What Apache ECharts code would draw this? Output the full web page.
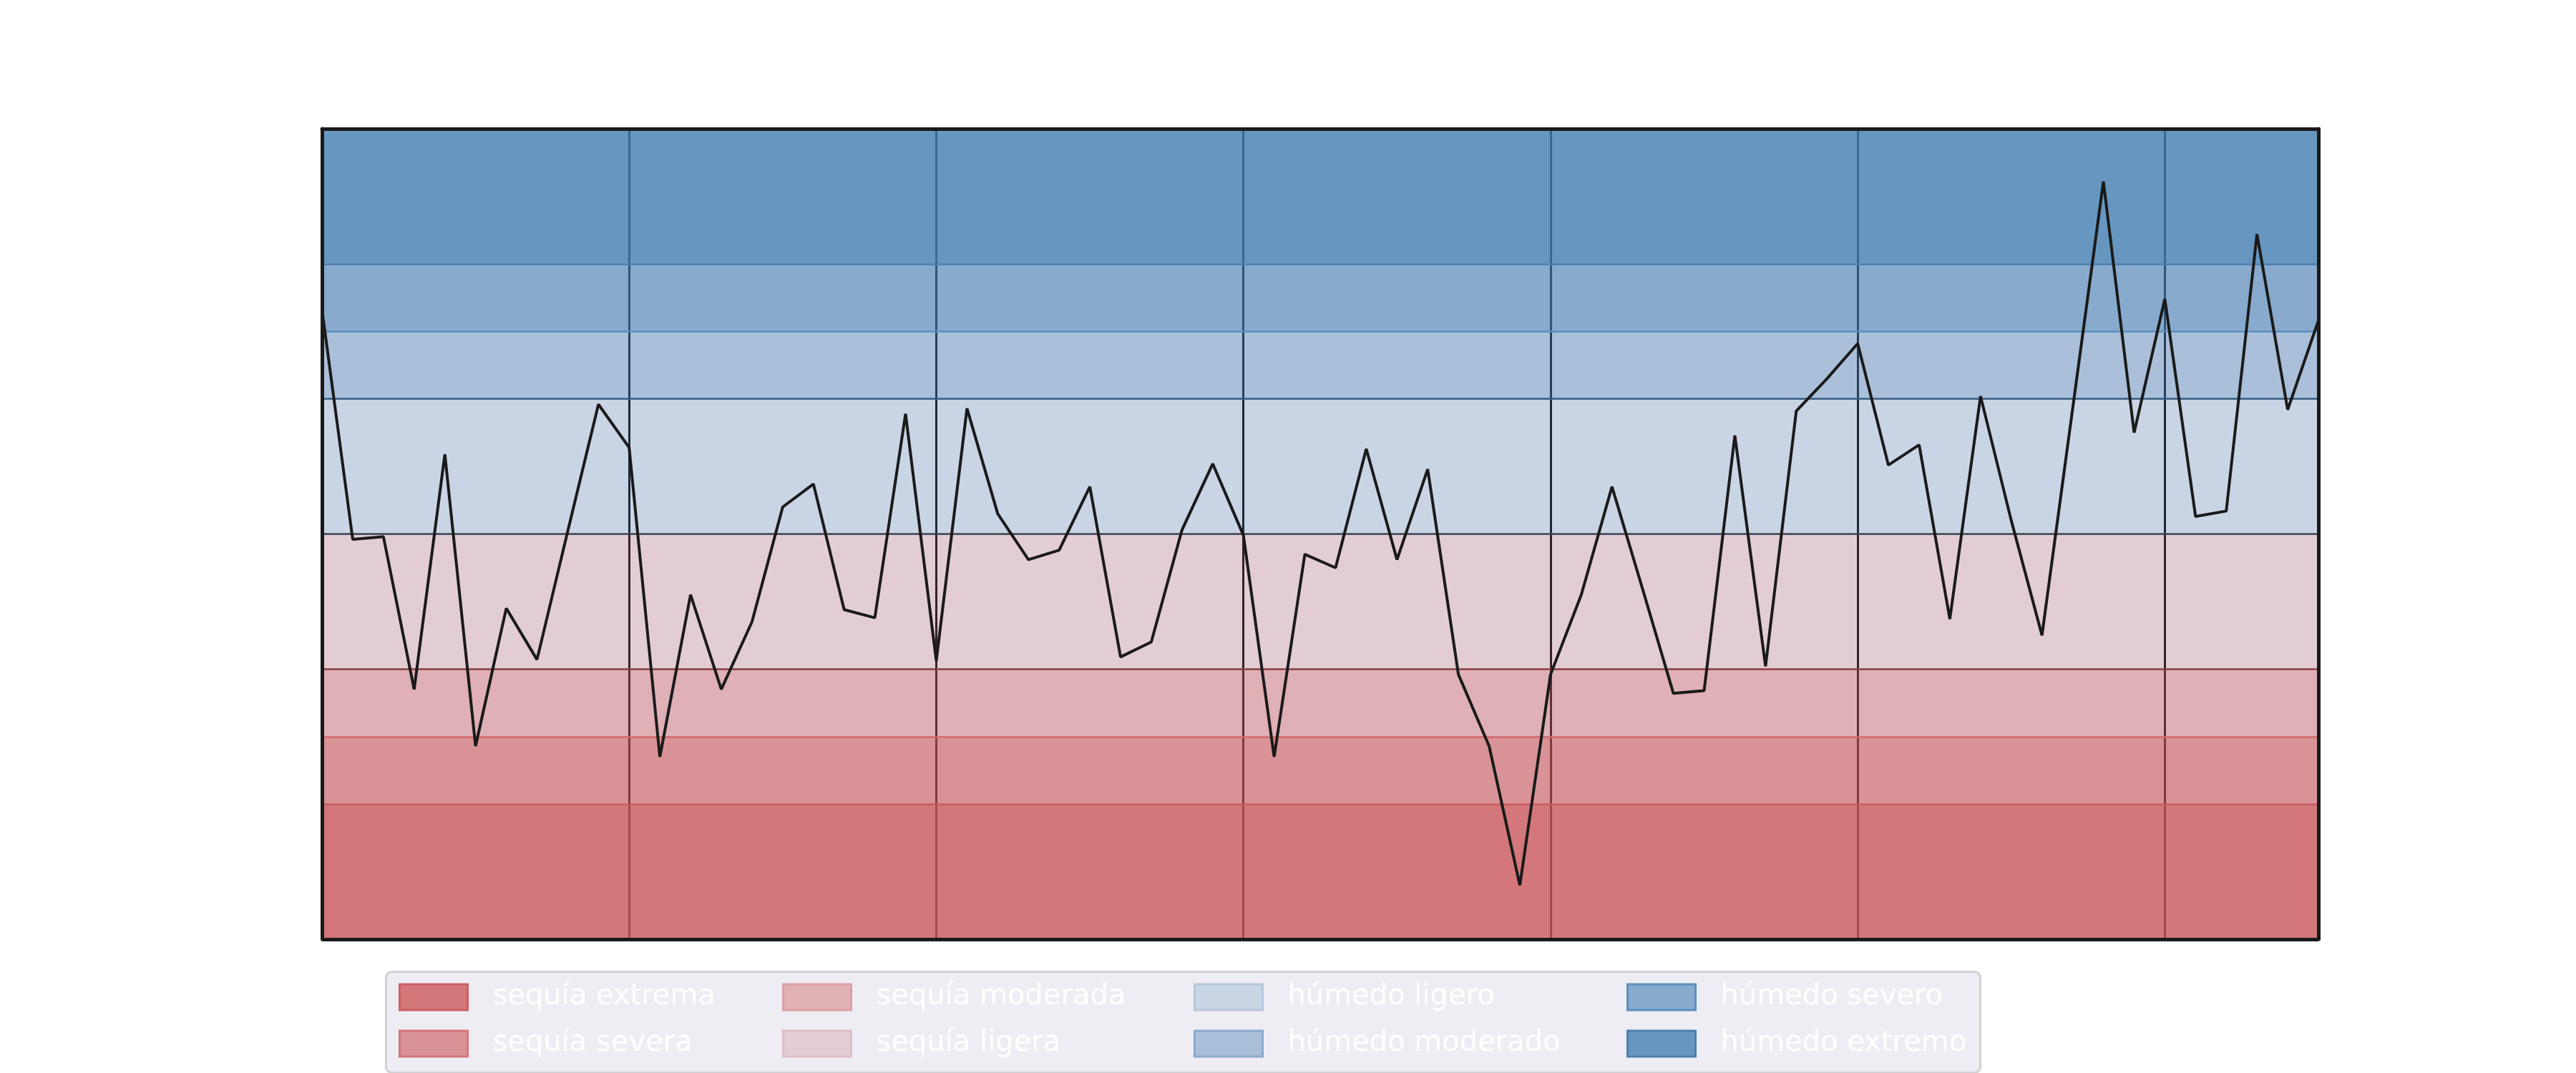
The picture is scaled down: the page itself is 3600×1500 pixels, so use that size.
<!DOCTYPE html>
<html>
<head>
<meta charset="utf-8">
<script src="https://cdn.jsdelivr.net/npm/echarts@6/dist/echarts.min.js"></script>
<style>
  html, body { margin: 0; padding: 0; background: #ffffff; }
  #chart { width: 3600px; height: 1500px; }
</style>
</head>
<body>
<div id="chart"></div>
<script>
// años (eje x, sin etiquetas visibles)
var years = [1950,1951,1952,1953,1954,1955,1956,1957,1958,1959,
             1960,1961,1962,1963,1964,1965,1966,1967,1968,1969,
             1970,1971,1972,1973,1974,1975,1976,1977,1978,1979,
             1980,1981,1982,1983,1984,1985,1986,1987,1988,1989,
             1990,1991,1992,1993,1994,1995,1996,1997,1998,1999,
             2000,2001,2002,2003,2004,2005,2006,2007,2008,2009,
             2010,2011,2012,2013,2014,2015];
// índice (SPI)
var spi = [1.66,-0.04,-0.02,-1.15,0.59,-1.57,-0.55,-0.93,0.02,0.96,
           0.64,-1.65,-0.45,-1.15,-0.65,0.20,0.37,-0.56,-0.62,0.89,
           -0.94,0.93,0.15,-0.19,-0.12,0.35,-0.91,-0.80,0.03,0.52,
           -0.01,-1.65,-0.15,-0.25,0.63,-0.19,0.48,-1.04,-1.57,-2.60,
           -1.04,-0.45,0.35,-0.41,-1.18,-1.16,0.73,-0.98,0.91,1.15,
           1.41,0.51,0.66,-0.63,1.02,0.10,-0.75,0.93,2.61,0.75,
           1.74,0.13,0.17,2.22,0.92,1.58];

// clases
var bandNames = ['sequía extrema','sequía severa','sequía moderada','sequía ligera',
                 'húmedo ligero','húmedo moderado','húmedo severo','húmedo extremo'];
var bandFrom = [-3, -2, -1.5, -1, 0, 1, 1.5, 2];
var bandTo   = [-2, -1.5, -1, 0, 1, 1.5, 2, 3];
var edgeValues = [-2, -1.5, -1, 0, 1, 1.5, 2];

// estilos
var bandFill = ['rgba(200,85,89,0.8)','rgba(193,78,85,0.61)','rgba(182,75,87,0.44)','rgba(143,55,83,0.25)',
                'rgba(39,87,151,0.25)','rgba(62,110,169,0.44)','rgba(66,122,176,0.63)','rgba(65,125,177,0.8)'];
var swatchFill = ['#d3777a','#d99397','#dfb1b5','#e4ccd3','#c9d5e5','#aabfd9','#88abcd','#6797c1'];
var swatchEdge = ['#cc5f62','#d3767a','#dca0a5','#dfbcc4','#b5c6dc','#8aaacd','#5b8fbf','#4a80b0'];
var edgeColors = ['#c85a5c','#d06868','#8a3d3e','#3b4052','#365d82','#5a8ebe','#4a7eae'];

var myChart = echarts.init(document.getElementById('chart'));

var series = [];
for (var i = 0; i < bandNames.length; i++) {
    series.push({
        name: bandNames[i],
        type: 'bar',
        data: [],
        itemStyle: { color: swatchFill[i] },
        markArea: {
            silent: true,
            z: 1,
            itemStyle: { color: bandFill[i], opacity: 1, borderWidth: 0 },
            data: [[{ yAxis: bandFrom[i] }, { yAxis: bandTo[i] }]]
        }
    });
}
// bordes de las franjas
series.push({
    name: 'bordes',
    type: 'line',
    data: [],
    markLine: {
        silent: true,
        z: 3,
        symbol: 'none',
        label: { show: false },
        data: edgeValues.map(function (v, k) {
            return { yAxis: v, lineStyle: { color: edgeColors[k], width: 2.5, type: 'solid' } };
        })
    }
});
// la serie
series.push({
    name: 'SPI',
    type: 'line',
    data: spi,
    z: 5,
    symbol: 'none',
    lineStyle: { color: '#1a1a1a', width: 4 },
    itemStyle: { color: '#1a1a1a' }
});
// borde inferior del marco
series.push({
    name: 'marco',
    type: 'line',
    data: [],
    markLine: {
        silent: true,
        z: 10,
        symbol: 'none',
        label: { show: false },
        lineStyle: { color: '#1a1a1a', width: 5, type: 'solid' },
        data: [{ yAxis: -3 }]
    }
});

function legendCol(left, names) {
    return {
        orient: 'vertical',
        left: left,
        top: 1374,
        padding: 0,
        itemWidth: 95,
        itemHeight: 36,
        itemGap: 25,
        icon: 'rect',
        selectedMode: false,
        textStyle: {
            color: '#ffffff',
            fontFamily: 'DejaVu Sans',
            fontSize: 40,
            lineHeight: 36,
            padding: [0, 0, 0, 30]
        },
        data: names.map(function (n) {
            var k = bandNames.indexOf(n);
            return { name: n, itemStyle: { color: swatchFill[k], borderColor: swatchEdge[k], borderWidth: 3 } };
        })
    };
}

var option = {
    animation: false,
    backgroundColor: '#ffffff',
    grid: { left: 450, right: 360, top: 180, bottom: 187, show: false },
    graphic: [{
        type: 'rect',
        left: 538,
        top: 1357,
        z: 0,
        shape: { width: 2228, height: 141, r: 8 },
        style: { fill: '#eeedf3', stroke: '#d2d2d6', lineWidth: 3 }
    }],
    legend: [
        legendCol(557, ['sequía extrema', 'sequía severa']),
        legendCol(1093, ['sequía moderada', 'sequía ligera']),
        legendCol(1668, ['húmedo ligero', 'húmedo moderado']),
        legendCol(2273, ['húmedo severo', 'húmedo extremo'])
    ],
    xAxis: [{
        type: 'category',
        data: years,
        boundaryGap: false,
        position: 'bottom',
        z: 0,
        axisLine: { show: false, onZero: false },
        axisTick: { show: false },
        axisLabel: { show: false },
        splitLine: {
            show: true,
            interval: function (idx) { return idx % 10 === 0; },
            lineStyle: { color: '#1a1a1a', width: 3 }
        }
    }, {
        type: 'category',
        data: years,
        boundaryGap: false,
        position: 'top',
        z: 10,
        axisLine: { show: true, onZero: false, lineStyle: { color: '#1a1a1a', width: 5 } },
        axisTick: { show: false },
        axisLabel: { show: false },
        splitLine: { show: false }
    }],
    yAxis: [{
        type: 'value',
        min: -3,
        max: 3,
        interval: 1,
        position: 'left',
        z: 10,
        axisLine: { show: true, onZero: false, lineStyle: { color: '#1a1a1a', width: 5 } },
        axisTick: { show: false },
        axisLabel: { show: false },
        splitLine: { show: false }
    }, {
        type: 'value',
        min: -3,
        max: 3,
        interval: 1,
        position: 'right',
        z: 10,
        axisLine: { show: true, onZero: false, lineStyle: { color: '#1a1a1a', width: 5 } },
        axisTick: { show: false },
        axisLabel: { show: false },
        splitLine: { show: false }
    }],
    series: series
};
myChart.setOption(option);
</script>
</body>
</html>
